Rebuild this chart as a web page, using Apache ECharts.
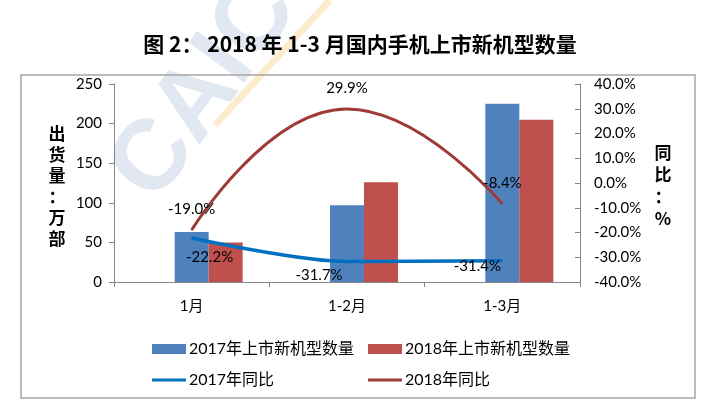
<!DOCTYPE html>
<html>
<head>
<meta charset="utf-8">
<script src="https://cdn.jsdelivr.net/npm/echarts@6/dist/echarts.min.js"></script>
<style>
html,body{margin:0;padding:0;background:#fff;}
#chart{width:720px;height:418px;}
</style>
</head>
<body>
<div id="chart"></div>
<script>
var categories = ['1月', '1-2月', '1-3月'];
var models2017 = [63, 97, 225];
var models2018 = [50, 126, 205];
var yoy2017 = [-22.2, -31.7, -31.4];
var yoy2018 = [-19.0, 29.9, -8.4];
var leftTicks = {min: 0, max: 250, interval: 50};
var rightTicks = {min: -40, max: 40, interval: 10};
var titleText = '图 2： 2018 年 1-3 月国内手机上市新机型数量';
var seriesNames = ['2017年上市新机型数量', '2018年上市新机型数量', '2017年同比', '2018年同比'];

var FONT = 'Lato, "Noto Sans CJK SC", sans-serif';
var CJK = '"Noto Sans CJK SC", sans-serif';
var labelOffsets2017 = [[18, 6], [-28, 1], [-25, -8]];

var chart = echarts.init(document.getElementById('chart'), null, {renderer: 'canvas'});

function legendAt(left, top, name, isLine) {
  return {
    left: left, top: top, data: [name],
    icon: 'rect', itemWidth: 34, itemHeight: isLine ? 3 : 10, itemGap: 0,
    textStyle: {fontFamily: FONT, fontSize: 16, color: '#000', padding: [0, 0, 0, -2]},
    selectedMode: false
  };
}

var option = {
  backgroundColor: '#fff',
  animation: false,
  title: {
    text: titleText, left: 'center', top: 29,
    textStyle: {fontFamily: CJK, fontSize: 21, fontWeight: 'bold', color: '#000'}
  },
  legend: [
    legendAt(147, 336, seriesNames[0], false),
    legendAt(363, 336, seriesNames[1], false),
    legendAt(147, 367, seriesNames[2], true),
    legendAt(363, 367, seriesNames[3], true)
  ],
  grid: {left: 114, right: 140, top: 84, bottom: 136},
  xAxis: {
    type: 'category', data: categories,
    axisLine: {lineStyle: {color: '#868686', width: 1}},
    axisTick: {show: true, length: 5, lineStyle: {color: '#868686'}},
    axisLabel: {fontFamily: FONT, fontSize: 15, color: '#000', margin: 17}
  },
  yAxis: [
    {
      type: 'value', min: leftTicks.min, max: leftTicks.max, interval: leftTicks.interval,
      splitLine: {show: false},
      axisLine: {show: true, lineStyle: {color: '#868686'}},
      axisTick: {show: true, length: 5, lineStyle: {color: '#868686'}},
      axisLabel: {fontFamily: FONT, fontSize: 15, color: '#000', margin: 12}
    },
    {
      type: 'value', min: rightTicks.min, max: rightTicks.max, interval: rightTicks.interval,
      splitLine: {show: false},
      axisLine: {show: true, lineStyle: {color: '#868686'}},
      axisTick: {show: true, inside: true, length: 5, lineStyle: {color: '#868686'}},
      axisLabel: {fontFamily: FONT, fontSize: 15, color: '#000', margin: 14,
        formatter: function (v) { return v.toFixed(1) + '%'; }}
    }
  ],
  graphic: [
    {
      type: 'text', z: 0, silent: true,
      x: 205, y: 90, rotation: Math.PI * 0.3, originX: 0, originY: 0,
      style: {text: 'CAIC', fontFamily: 'Liberation Sans', fontWeight: 'bold', fontSize: 100,
        fill: 'rgba(160,178,210,0.3)', textAlign: 'center', textVerticalAlign: 'middle'}
    },
    {
      type: 'line', z: 0, silent: true,
      shape: {x1: 215, y1: 125, x2: 330, y2: 0},
      style: {stroke: 'rgba(250,190,90,0.3)', lineWidth: 7}
    },
    {
      type: 'rect', z: 1, silent: true,
      shape: {x: 21, y: 75, width: 674, height: 323},
      style: {fill: 'none', stroke: '#A6A6A6', lineWidth: 1.5}
    },
    {
      type: 'text', z: 5, silent: true, x: 57, y: 123,
      style: {text: '出\n货\n量\n：\n万\n部', fontFamily: CJK, fontWeight: 'bold', fontSize: 17,
        lineHeight: 21, fill: '#000', textAlign: 'center'}
    },
    {
      type: 'text', z: 5, silent: true, x: 663, y: 142,
      style: {text: '同\n比\n：\n%', fontFamily: CJK, fontWeight: 'bold', fontSize: 17,
        lineHeight: 22, fill: '#000', textAlign: 'center'}
    }
  ],
  series: [
    {
      name: 'spacer', type: 'bar', data: categories.map(function () { return '-'; }),
      barWidth: 34, barGap: '0%', yAxisIndex: 0, silent: true
    },
    {
      name: seriesNames[0], type: 'bar', data: models2017, yAxisIndex: 0,
      barWidth: 34, barGap: '0%', itemStyle: {color: '#4F81BD'}
    },
    {
      name: seriesNames[1], type: 'bar', data: models2018, yAxisIndex: 0,
      barWidth: 34, barGap: '0%', itemStyle: {color: '#C0504D'}
    },
    {
      name: seriesNames[2], type: 'line', yAxisIndex: 1, smooth: 0.3,
      data: yoy2017.map(function (v, i) {
        return {value: v, label: {offset: labelOffsets2017[i]}};
      }),
      symbol: 'circle', symbolSize: 1, showSymbol: true,
      color: '#0070C0',
      lineStyle: {color: '#0070C0', width: 3.5},
      itemStyle: {color: '#0070C0'},
      label: {show: true, position: 'bottom', distance: 5, fontFamily: FONT, fontSize: 15, color: '#000',
        formatter: function (p) { return p.value.toFixed(1) + '%'; }},
      z: 4
    },
    {
      name: seriesNames[3], type: 'line', yAxisIndex: 1, smooth: true,
      data: yoy2018,
      symbol: 'circle', symbolSize: 1, showSymbol: true,
      color: '#9E3B38',
      lineStyle: {color: '#9E3B38', width: 3},
      itemStyle: {color: '#9E3B38'},
      label: {show: true, position: 'top', distance: 13, fontFamily: FONT, fontSize: 15, color: '#000',
        formatter: function (p) { return p.value.toFixed(1) + '%'; }},
      z: 4
    }
  ]
};
chart.setOption(option);
</script>
</body>
</html>
